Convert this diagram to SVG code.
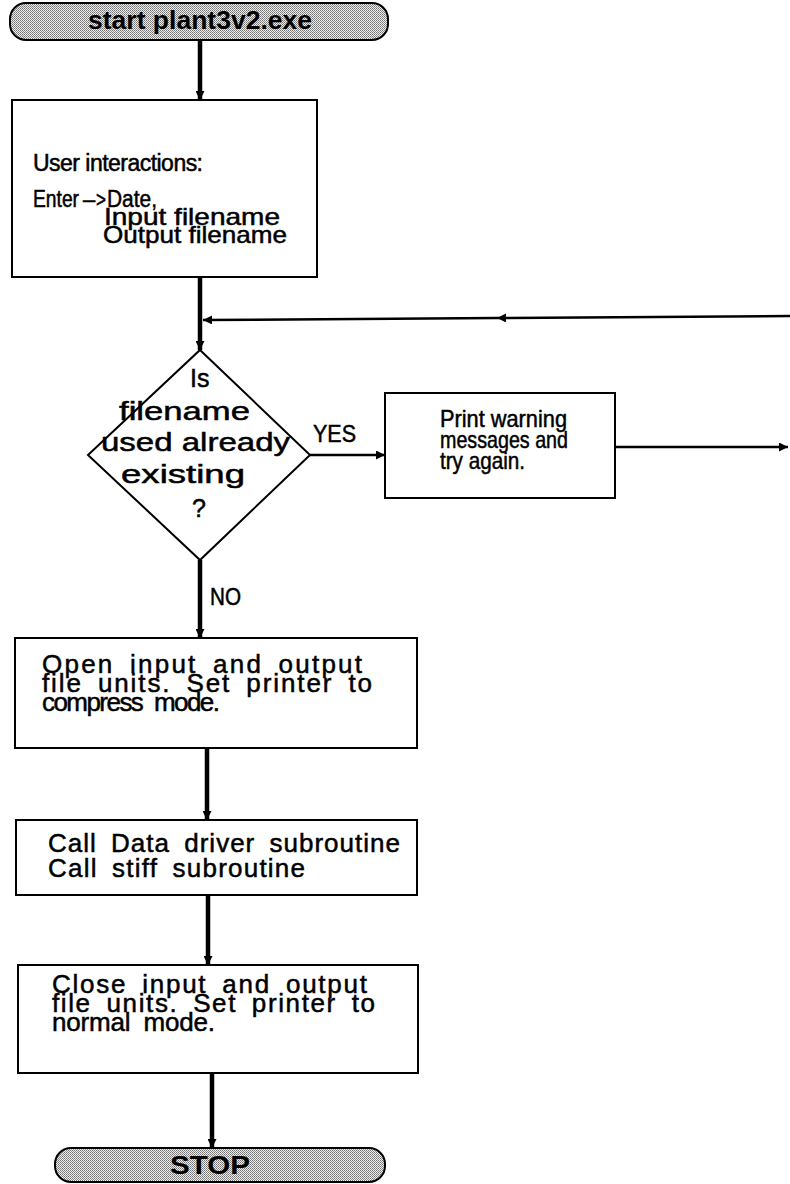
<svg xmlns="http://www.w3.org/2000/svg" width="790" height="1184" viewBox="0 0 790 1184">
  <style>
    .box { fill: #ffffff; stroke: #000; stroke-width: 2; }
    .term { fill: url(#stipple); stroke: #000; stroke-width: 2; }
    .t { font-family: "Liberation Sans", Arial, sans-serif; font-size: 24px; fill: #000; stroke: #000; stroke-width: 0.5; }
    .w { font-size: 26px; word-spacing: 6px; }
    .tt { font-family: "Liberation Sans", Arial, sans-serif; font-size: 25px; font-weight: bold; fill: #000; }
    .flow { fill: none; stroke: #000; stroke-width: 4.5; }
    .thin { fill: none; stroke: #000; stroke-width: 2.5; }
  </style>
  <defs>
    <!-- dithered grey fill for the terminals -->
    <pattern id="stipple" width="2" height="2" patternUnits="userSpaceOnUse">
      <rect width="2" height="2" fill="#ededed"/>
      <rect x="0" y="0" width="1" height="1" fill="#747474"/>
      <rect x="1" y="1" width="1" height="1" fill="#8e8e8e"/>
    </pattern>
    <marker id="arrow" viewBox="0 0 10 10" refX="10" refY="5" markerWidth="9" markerHeight="9" markerUnits="userSpaceOnUse" orient="auto">
      <path d="M0,0 L10,5 L0,10 z" fill="#000"/>
    </marker>
  </defs>

  <!-- connectors -->
  <g id="connectors">
    <path class="flow" d="M200,40 V100" marker-end="url(#arrow)"/>
    <path class="flow" d="M200,277 V350" marker-end="url(#arrow)"/>
    <path class="thin" d="M790,316 L497,318 L203,320" marker-mid="url(#arrow)" marker-end="url(#arrow)"/>
    <path class="thin" d="M310,455 H385" marker-end="url(#arrow)"/>
    <path class="thin" d="M615,447 H788" marker-end="url(#arrow)"/>
    <path class="flow" d="M200,560 V638" marker-end="url(#arrow)"/>
    <path class="flow" d="M207,748 V820" marker-end="url(#arrow)"/>
    <path class="flow" d="M208,895 V965" marker-end="url(#arrow)"/>
    <path class="flow" d="M212,1073 V1148" marker-end="url(#arrow)"/>
    <text class="t" x="313" y="442" textLength="43" lengthAdjust="spacingAndGlyphs">YES</text>
    <text class="t" x="210" y="605" textLength="31" lengthAdjust="spacingAndGlyphs">NO</text>
  </g>

  <!-- start terminal -->
  <g id="start">
    <rect class="term" x="10" y="3" width="378" height="37" rx="16"/>
    <text class="tt" x="88" y="29" textLength="224" lengthAdjust="spacingAndGlyphs">start plant3v2.exe</text>
  </g>

  <!-- user input step -->
  <g id="user-input">
    <rect class="box" x="12" y="100" width="305" height="177"/>
    <text class="t" x="33" y="171" style="font-size:23px" textLength="170" lengthAdjust="spacing">User interactions:</text>
    <text class="t" x="33" y="207" style="font-size:23px" textLength="46" lengthAdjust="spacingAndGlyphs">Enter</text>
    <text class="t" x="83" y="207" style="font-size:22px">–</text>
    <text class="t" x="96" y="207" style="font-size:22px" textLength="10" lengthAdjust="spacingAndGlyphs">&gt;</text>
    <text class="t" x="107" y="207" style="font-size:23px" textLength="50" lengthAdjust="spacingAndGlyphs">Date,</text>
    <text class="t" x="104" y="225" textLength="176" lengthAdjust="spacingAndGlyphs">Input filename</text>
    <text class="t" x="103" y="243" textLength="184" lengthAdjust="spacingAndGlyphs">Output filename</text>
  </g>

  <!-- filename check -->
  <g id="check">
    <polygon class="box" points="200,350 310,455 200,560 88,455"/>
    <text class="t" x="190" y="387" style="font-size:25px">Is</text>
    <text class="t" x="119" y="420" style="font-size:26px" textLength="131" lengthAdjust="spacingAndGlyphs">filename</text>
    <text class="t" x="101" y="451" style="font-size:26px" textLength="189" lengthAdjust="spacingAndGlyphs">used already</text>
    <text class="t" x="121" y="483" style="font-size:26px" textLength="124" lengthAdjust="spacingAndGlyphs">existing</text>
    <text class="t" x="192" y="517" style="font-size:25px">?</text>
  </g>

  <!-- warning step -->
  <g id="warning">
    <rect class="box" x="385" y="393" width="230" height="105"/>
    <text class="t" x="440" y="427" textLength="127" lengthAdjust="spacingAndGlyphs">Print warning</text>
    <text class="t" x="440" y="448" textLength="128" lengthAdjust="spacingAndGlyphs">messages and</text>
    <text class="t" x="440" y="469" textLength="85" lengthAdjust="spacingAndGlyphs">try again.</text>
  </g>

  <!-- open files -->
  <g id="open-files">
    <rect class="box" x="15" y="638" width="402" height="110"/>
    <text class="t w" x="42" y="673" textLength="320" lengthAdjust="spacing">Open input and output</text>
    <text class="t w" x="42" y="692" textLength="330" lengthAdjust="spacing">file units.  Set printer to</text>
    <text class="t w" x="42" y="711" textLength="178" lengthAdjust="spacing">compress mode.</text>
  </g>

  <!-- subroutine calls -->
  <g id="calls">
    <rect class="box" x="16" y="820" width="401" height="75"/>
    <text class="t w" x="48" y="852" textLength="352" lengthAdjust="spacing">Call Data driver subroutine</text>
    <text class="t w" x="48" y="877" textLength="257" lengthAdjust="spacing">Call stiff subroutine</text>
  </g>

  <!-- close files -->
  <g id="close-files">
    <rect class="box" x="18" y="965" width="400" height="108"/>
    <text class="t w" x="52" y="993" textLength="315" lengthAdjust="spacing">Close input and output</text>
    <text class="t w" x="52" y="1012" textLength="323" lengthAdjust="spacing">file units.  Set printer to</text>
    <text class="t w" x="52" y="1031" textLength="163" lengthAdjust="spacing">normal mode.</text>
  </g>

  <!-- stop terminal -->
  <g id="stop">
    <rect class="term" x="55" y="1148" width="330" height="34" rx="16"/>
    <text class="tt" x="170" y="1174" textLength="80" lengthAdjust="spacingAndGlyphs">STOP</text>
  </g>
</svg>
